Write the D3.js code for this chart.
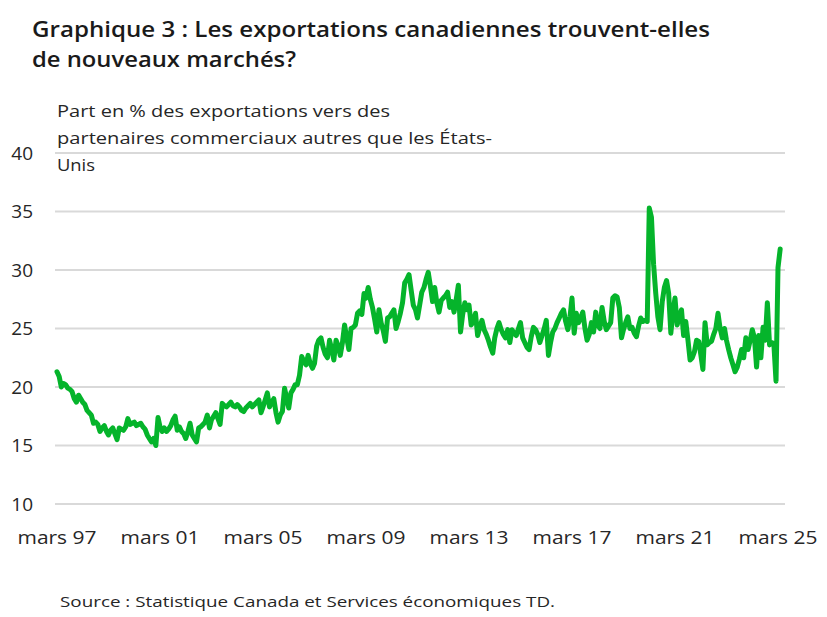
<!DOCTYPE html>
<html>
<head>
<meta charset="utf-8">
<script src="https://cdn.jsdelivr.net/npm/d3@7/dist/d3.min.js"></script>
<style>
  html, body { margin: 0; padding: 0; background: #fff; }
  svg { display: block; }
  text { font-family: "Open Sans", Roboto, sans-serif; }
</style>
</head>
<body>
<svg id="chart" width="827" height="617"></svg>
<script>
// ---- Data (monthly, March 1997 to April 2025) ----
const startMonth = "1997-03";
const shareValues = [
  21.3,20.9,20.0,20.3,20.2,19.9,19.8,19.6,19.0,18.7,19.3,19.0,
  18.7,18.5,18.0,17.8,17.6,16.9,17.0,16.8,16.2,16.5,16.7,16.2,
  15.9,16.3,16.5,16.0,15.5,16.5,16.4,16.3,16.6,17.3,16.8,16.9,
  17.0,16.7,16.8,16.9,16.6,16.4,15.9,15.6,15.3,15.6,15.0,17.4,
  16.6,16.2,16.5,16.2,16.4,16.7,17.2,17.5,16.3,16.6,16.2,16.0,
  15.6,16.2,16.9,15.9,15.6,15.3,16.5,16.6,16.8,17.0,17.6,16.5,
  17.2,17.5,17.8,17.3,16.8,18.6,18.4,18.3,18.5,18.7,18.4,18.3,
  18.5,18.3,18.0,17.9,18.2,18.4,18.6,18.3,18.5,18.7,18.9,17.8,
  18.3,18.9,19.5,18.3,18.7,19.0,17.8,17.0,17.6,17.9,19.9,19.0,
  18.2,19.5,19.8,20.2,20.2,21.0,22.6,22.2,21.9,22.7,22.0,21.6,
  22.0,23.5,24.0,24.2,23.4,22.8,22.5,24.0,23.2,22.3,24.0,23.5,
  22.7,23.8,25.3,24.2,23.2,25.0,25.1,25.3,26.3,26.5,26.2,28.0,
  27.6,28.5,27.5,26.8,25.8,24.7,26.6,25.5,24.8,23.9,25.9,26.0,
  26.3,26.6,25.0,25.6,26.3,27.2,28.9,29.2,29.6,28.3,27.0,26.6,
  25.9,27.0,28.1,28.5,29.2,29.8,28.6,27.3,28.5,27.2,26.4,27.4,
  27.6,27.8,28.1,26.8,27.3,26.4,27.5,28.7,24.7,26.2,27.2,26.6,
  27.0,25.3,25.6,26.3,24.4,25.1,25.7,24.9,24.5,24.0,23.4,22.9,
  24.2,25.0,25.5,24.9,24.5,24.2,24.9,23.8,24.9,24.6,24.4,25.0,
  25.5,24.2,23.8,23.4,23.2,24.3,25.1,24.9,24.5,23.8,24.4,25.0,
  25.7,22.7,23.8,24.7,25.0,25.5,25.9,26.3,26.6,25.6,24.9,26.0,
  27.6,24.6,26.3,25.5,25.9,26.4,25.0,24.0,24.5,25.5,24.7,26.4,
  25.3,25.0,26.8,25.6,24.9,25.2,25.5,27.6,27.8,27.7,26.8,24.2,
  24.9,25.5,26.0,25.0,25.1,24.6,24.3,25.2,25.9,25.6,25.7,25.6,
  35.3,34.5,30.5,28.0,26.0,24.9,27.3,28.5,29.1,28.0,24.6,26.5,
  27.6,25.3,26.0,26.6,24.4,25.6,24.0,22.3,22.5,23.0,24.0,23.9,
  22.8,21.5,25.5,23.6,23.8,23.9,24.5,25.0,26.3,25.0,24.2,25.0,
  24.0,23.2,22.5,21.9,21.3,21.7,22.4,23.2,22.5,24.2,23.2,24.0,
  24.9,24.2,21.7,24.4,22.5,25.1,24.0,27.2,23.6,23.8,23.7,20.5,30.2,31.8
];
const yTicks = [10, 15, 20, 25, 30, 35, 40];
const xTickYears = [1997, 2001, 2005, 2009, 2013, 2017, 2021, 2025];
const xTickPrefix = "mars";
const titleLines = ["Graphique 3 : Les exportations canadiennes trouvent-elles", "de nouveaux marchés?"];
const axisTitleLines = ["Part en % des exportations vers des", "partenaires commerciaux autres que les États-", "Unis"];
const sourceText = "Source : Statistique Canada et Services économiques TD.";

// ---- Build ----
const parseMonth = d3.timeParse("%Y-%m");
const t0 = parseMonth(startMonth);
const data = shareValues.map((v, i) => ({ date: d3.timeMonth.offset(t0, i), value: v }));

const svg = d3.select("#chart");
svg.append("rect").attr("width", 827).attr("height", 617).attr("fill", "#fff");

// fit text to a target width (matches the reference font's wider set)
function fitWidth(sel, w) {
  sel.each(function () {
    const el = this;
    const cur = el.getComputedTextLength();
    const target = typeof w === "function" ? w(d3.select(el).datum()) : w;
    if (cur > 0 && target) {
      el.setAttribute("textLength", target);
      el.setAttribute("lengthAdjust", "spacingAndGlyphs");
    }
  });
}

const x = d3.scaleTime()
  .domain([new Date(1997, 2, 1), new Date(2025, 2, 1)])
  .range([57, 778]);
const y = d3.scaleLinear().domain([10, 40]).range([504, 153]);

// gridlines
svg.append("g").selectAll("line").data(yTicks).join("line")
  .attr("x1", 55).attr("x2", 785)
  .attr("y1", d => y(d)).attr("y2", d => y(d))
  .attr("stroke", "#d9d9d9").attr("stroke-width", 2);

// y tick labels
svg.append("g").selectAll("text").data(yTicks).join("text")
  .attr("x", 33).attr("y", d => y(d)).attr("dy", "0.35em")
  .attr("text-anchor", "end")
  .attr("font-size", 19).attr("fill", "#262626")
  .text(d => d);

// x tick labels
const xLabels = svg.append("g").selectAll("text").data(xTickYears).join("text")
  .attr("x", d => x(new Date(d, 2, 1))).attr("y", 544)
  .attr("text-anchor", "middle")
  .attr("font-size", 19).attr("fill", "#262626")
  .text(d => xTickPrefix + " " + String(d % 100).padStart(2, "0"));
fitWidth(xLabels, 79);

// line
const line = d3.line().x(d => x(d.date)).y(d => y(d.value)).curve(d3.curveLinear);
svg.append("path").datum(data)
  .attr("d", line)
  .attr("fill", "none")
  .attr("stroke", "#05b42b")
  .attr("stroke-width", 5)
  .attr("stroke-linejoin", "round")
  .attr("stroke-linecap", "round");

// title
const titleWidths = [678, 264];
const title = svg.append("g").selectAll("text").data(titleLines).join("text")
  .attr("x", 32).attr("y", (d, i) => 37 + i * 30)
  .attr("font-size", 21.5).attr("font-weight", 600).attr("fill", "#1a1a1a")
  .text(d => d);
fitWidth(title, d => titleWidths[titleLines.indexOf(d)]);

// axis title
const axisWidths = [333, 435, 38];
const axisTitle = svg.append("g").selectAll("text").data(axisTitleLines).join("text")
  .attr("x", 57).attr("y", (d, i) => 117 + i * 27)
  .attr("font-size", 17).attr("fill", "#262626")
  .text(d => d);
fitWidth(axisTitle, d => axisWidths[axisTitleLines.indexOf(d)]);

// source
const src = svg.append("text")
  .attr("x", 60).attr("y", 607)
  .attr("font-size", 15).attr("fill", "#262626")
  .text(sourceText);
fitWidth(src, 495);
</script>
</body>
</html>
